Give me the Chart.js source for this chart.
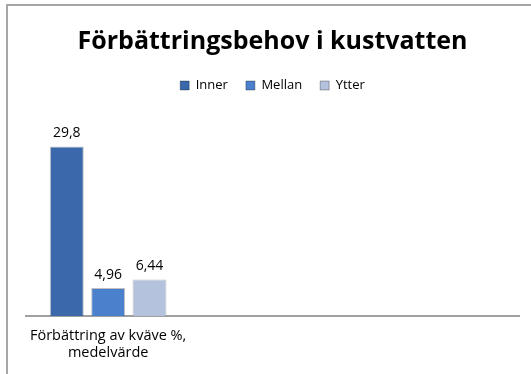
<!DOCTYPE html>
<html>
<head>
<meta charset="utf-8">
<script src="https://cdn.jsdelivr.net/npm/chart.js@4/dist/chart.umd.min.js"></script>
<style>
  html, body { margin: 0; padding: 0; background: #fff; overflow: hidden; }
  #wrap { position: relative; width: 531px; height: 374px; }
  #frame { position: absolute; left: 6px; top: 4px; width: 560px; height: 400px; border: 2px solid #a6a6a6; box-sizing: border-box; }
  #myChart { position: absolute; left: 0; top: 0; }
</style>
</head>
<body>
<div id="wrap">
  <div id="frame"></div>
  <canvas id="myChart" width="531" height="374"></canvas>
</div>
<script>
const titel = 'Förbättringsbehov i kustvatten';
const kategorier = [['Förbättring av kväve %,', 'medelvärde'], '', ''];
const serier = ['Inner', 'Mellan', 'Ytter'];
const inner = [29.8, null, null];
const mellan = [4.96, null, null];
const ytter = [6.44, null, null];

// kant, mitt, kant for the bevelled bars
const farger = [
  ['#244b85', '#3a68ab', '#244b85'],
  ['#2d5fa8', '#4a80cc', '#2d5fa8'],
  ['#8394b6', '#b4c2de', '#8394b6']
];

function bevel(idx) {
  return function (context) {
    const bar = context.element;
    const chart = context.chart;
    if (!bar || !chart.chartArea || bar.width === undefined) return farger[idx][1];
    const half = bar.width / 2;
    const g = chart.ctx.createLinearGradient(bar.x - half, 0, bar.x + half, 0);
    g.addColorStop(0, farger[idx][0]);
    g.addColorStop(0.15, farger[idx][1]);
    g.addColorStop(0.85, farger[idx][1]);
    g.addColorStop(1, farger[idx][0]);
    return g;
  };
}

const formatera = v => String(v).replace('.', ',');

const etiketter = {
  id: 'etiketter',
  afterDatasetsDraw(chart) {
    const ctx = chart.ctx;
    ctx.save();
    ctx.font = '14px "Open Sans", sans-serif';
    ctx.fillStyle = '#000';
    ctx.textAlign = 'center';
    ctx.textBaseline = 'bottom';
    chart.data.datasets.forEach((ds, i) => {
      chart.getDatasetMeta(i).data.forEach((bar, j) => {
        if (ds.data[j] == null) return;
        ctx.fillText(formatera(ds.data[j]), bar.x, bar.y - 6);
      });
    });
    ctx.restore();
  }
};

const legendFarger = farger.map(f => f[1]);
const data = [inner, mellan, ytter];

const ctx = document.getElementById('myChart').getContext('2d');
const myChart = new Chart(ctx, {
  type: 'bar',
  data: {
    labels: kategorier,
    datasets: serier.map((namn, i) => ({
      label: namn,
      data: data[i],
      backgroundColor: bevel(i),
      borderColor: 'rgba(0,0,0,0.25)',
      borderWidth: 1,
      categoryPercentage: 0.755,
      barPercentage: 0.82
    }))
  },
  options: {
    responsive: false,
    animation: false,
    layout: { padding: { left: 26, right: 12, top: 27, bottom: 1 } },
    plugins: {
      title: {
        display: true,
        text: titel,
        color: '#000',
        font: { family: 'Open Sans', size: 25, weight: 'bold' },
        padding: { top: 0, bottom: 4 }
      },
      legend: {
        labels: {
          color: '#000',
          font: { family: 'Open Sans', size: 13 },
          boxWidth: 9,
          boxHeight: 9,
          padding: 18,
          generateLabels: chart => serier.map((namn, i) => ({
            text: namn,
            fillStyle: legendFarger[i],
            strokeStyle: 'rgba(0,0,0,0.3)',
            lineWidth: 1,
            datasetIndex: i
          }))
        }
      },
      tooltip: { enabled: false }
    },
    scales: {
      x: {
        grid: { display: false, drawTicks: false },
        border: { display: true, color: '#a0a0a0', width: 2 },
        ticks: {
          color: '#000',
          font: { family: 'Open Sans', size: 14.5 },
          padding: 11,
          maxRotation: 0
        }
      },
      y: {
        display: false,
        min: 0,
        max: 37.6
      }
    }
  },
  plugins: [etiketter]
});
</script>
</body>
</html>
